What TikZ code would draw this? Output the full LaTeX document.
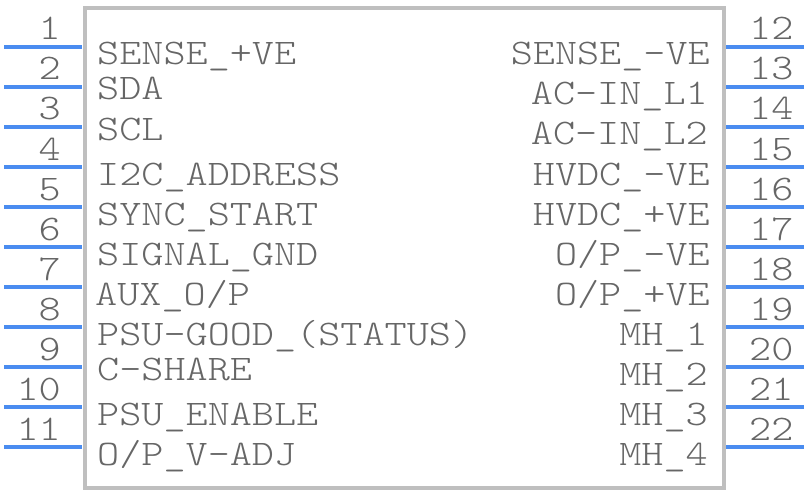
\documentclass[tikz,border=0pt]{standalone}
\usepackage{fontspec}
\newfontfamily\partfont{Latin Modern Mono Light}[FakeStretch=1.17]
\definecolor{pinblue}{HTML}{4A8CF0}
\definecolor{bodygrey}{HTML}{BFBFBF}
\definecolor{textgrey}{HTML}{666666}
\tikzset{
  pinline/.style={draw=pinblue,line width=4pt},
  bodyline/.style={draw=bodygrey,line width=4pt},
  partlabel/.style={text=textgrey,inner sep=0pt,font=\partfont\fontsize{36}{40}\selectfont},
}
\begin{document}
\begin{tikzpicture}[x=1pt,y=-1pt]
\useasboundingbox (0,0) rectangle (808,492);
\draw[bodyline] (84.5,8.5) rectangle (724,488);
\foreach \n in {1,...,11} {
  \coordinate (la\n) at (4,7+40*\n);
  \coordinate (lb\n) at (82,7+40*\n);
  \draw[pinline] (la\n) -- (lb\n);
  \node[partlabel,anchor=base east] (ln\n) at (61,40*\n) {\n};
}
\foreach \n in {12,...,22} {
  \coordinate (ra\n) at (726,7+40*\n-440);
  \coordinate (rb\n) at (804,7+40*\n-440);
  \draw[pinline] (ra\n) -- (rb\n);
  \node[partlabel,anchor=base west] (rn\n) at (749,40*\n-440) {\n};
}
\foreach \k/\x/\y/\t in {a/97/65/SENSE\_+VE, b/97/100/SDA, c/97/140/SCL, d/97/185/I2C\_ADDRESS, e/97/225/SYNC\_START, f/97/265/SIGNAL\_GND, g/95/305/AUX\_{O/P}, h/97/345/PSU-GOOD\_(STATUS), i/97/380/C-SHARE, j/97/425/PSU\_ENABLE, k/97/465/{O/P}\_V-ADJ} {
  \node[partlabel,anchor=base west] (left\k) at (\x,\y) {\t};
}
\foreach \k/\x/\y/\t in {a/710/65/SENSE\_-VE, b/708/105/AC-IN\_L1, c/708/145/AC-IN\_L2, d/710/185/HVDC\_-VE, e/710/225/HVDC\_+VE, f/710/265/{O/P}\_-VE, g/710/305/{O/P}\_+VE, h/708/345/MH\_1, i/708/385/MH\_2, j/708/425/MH\_3, k/708/465/MH\_4} {
  \node[partlabel,anchor=base east] (right\k) at (\x,\y) {\t};
}
\end{tikzpicture}
\end{document}
